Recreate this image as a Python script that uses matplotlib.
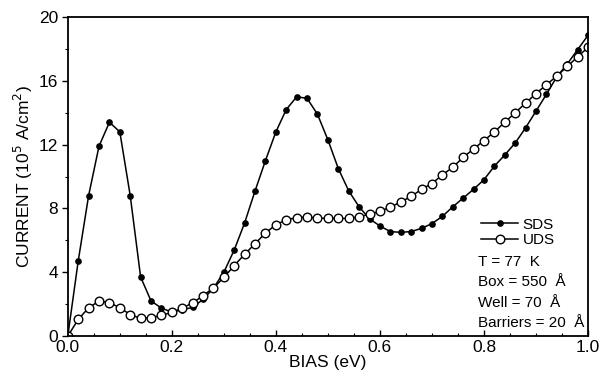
import numpy as np

import matplotlib.pyplot as plt

plt.rcParams['font.family'] = ['Liberation Sans', 'DejaVu Sans']
plt.rcParams['font.size'] = 12

######################################

bias = np.arange(51) * 0.02

sds = [0.0, 4.7, 8.8, 11.9, 13.4, 12.8, 8.8, 3.7, 2.2, 1.75,
       1.5, 1.65, 1.8, 2.3, 3.0, 4.0, 5.4, 7.1, 9.1, 11.0,
       12.8, 14.2, 15.0, 14.9, 13.9, 12.3, 10.5, 9.1, 8.1, 7.35,
       6.9, 6.55, 6.5, 6.55, 6.75, 7.05, 7.5, 8.1, 8.65, 9.2,
       9.8, 10.65, 11.35, 12.1, 13.05, 14.1, 15.15, 16.25, 17.05, 17.95,
       18.85]

uds = [0.0, 1.04, 1.77, 2.19, 2.1, 1.77, 1.35, 1.1, 1.15, 1.3,
       1.48, 1.75, 2.08, 2.53, 3.02, 3.67, 4.42, 5.13, 5.79, 6.46,
       6.98, 7.29, 7.42, 7.46, 7.4, 7.37, 7.37, 7.37, 7.48, 7.63,
       7.82, 8.08, 8.4, 8.75, 9.2, 9.56, 10.1, 10.58, 11.2, 11.73,
       12.25, 12.8, 13.4, 14.0, 14.6, 15.2, 15.75, 16.3, 16.9, 17.5,
       18.1]

notes = ['T = 77  K', 'Box = 550  Å', 'Well = 70  Å', 'Barriers = 20  Å']

fig = plt.figure('iv', figsize=(6.0, 3.78), dpi=100)
fig.subplots_adjust(left=0.113, right=0.98, top=0.955, bottom=0.111)
ax = fig.add_subplot()

ax.plot(bias, sds, c='k', lw=1.1, marker='o', ms=3.8, label='SDS')
ax.plot(bias, uds, c='k', lw=1.1, marker='o', ms=6.2, mfc='w', mec='k', mew=1.0, label='UDS')

ax.set_xlim(0, 1.0)
ax.set_ylim(0, 20)
ax.set_xticks(np.arange(0, 1.01, 0.2))
ax.set_xticks(np.arange(0, 1.01, 0.05), minor=True)
ax.set_yticks(np.arange(0, 21, 4))
ax.set_yticks(np.arange(0, 21, 2), minor=True)
ax.xaxis.set_major_formatter(plt.FormatStrFormatter('%.1f'))

ax.tick_params(axis='x', which='both', direction='in', top=False)
ax.tick_params(axis='y', which='both', direction='out', right=False)
ax.tick_params(which='major', length=4, width=1.0, labelsize=12.5, pad=3)
ax.tick_params(which='minor', length=2.5, width=0.8)
for sp in ax.spines.values():
    sp.set_linewidth(1.3)

ax.set_xlabel('BIAS (eV)', labelpad=0, fontsize=12.5)
ax.set_ylabel(r'CURRENT (10$^5$ A/cm$^2$)', labelpad=3, fontsize=12.5)

ax.legend(loc='upper left', bbox_to_anchor=(0.78, 0.395), frameon=False,
          borderpad=0, handlelength=2.4, handletextpad=0.3, labelspacing=0.1,
          fontsize=11)

for i, t in enumerate(notes):
    ax.text(0.788, 0.232 - i * 0.064, t, transform=ax.transAxes,
            ha='left', va='center', fontsize=11)

# plt.show()
fig.savefig('out.png', dpi=100)
